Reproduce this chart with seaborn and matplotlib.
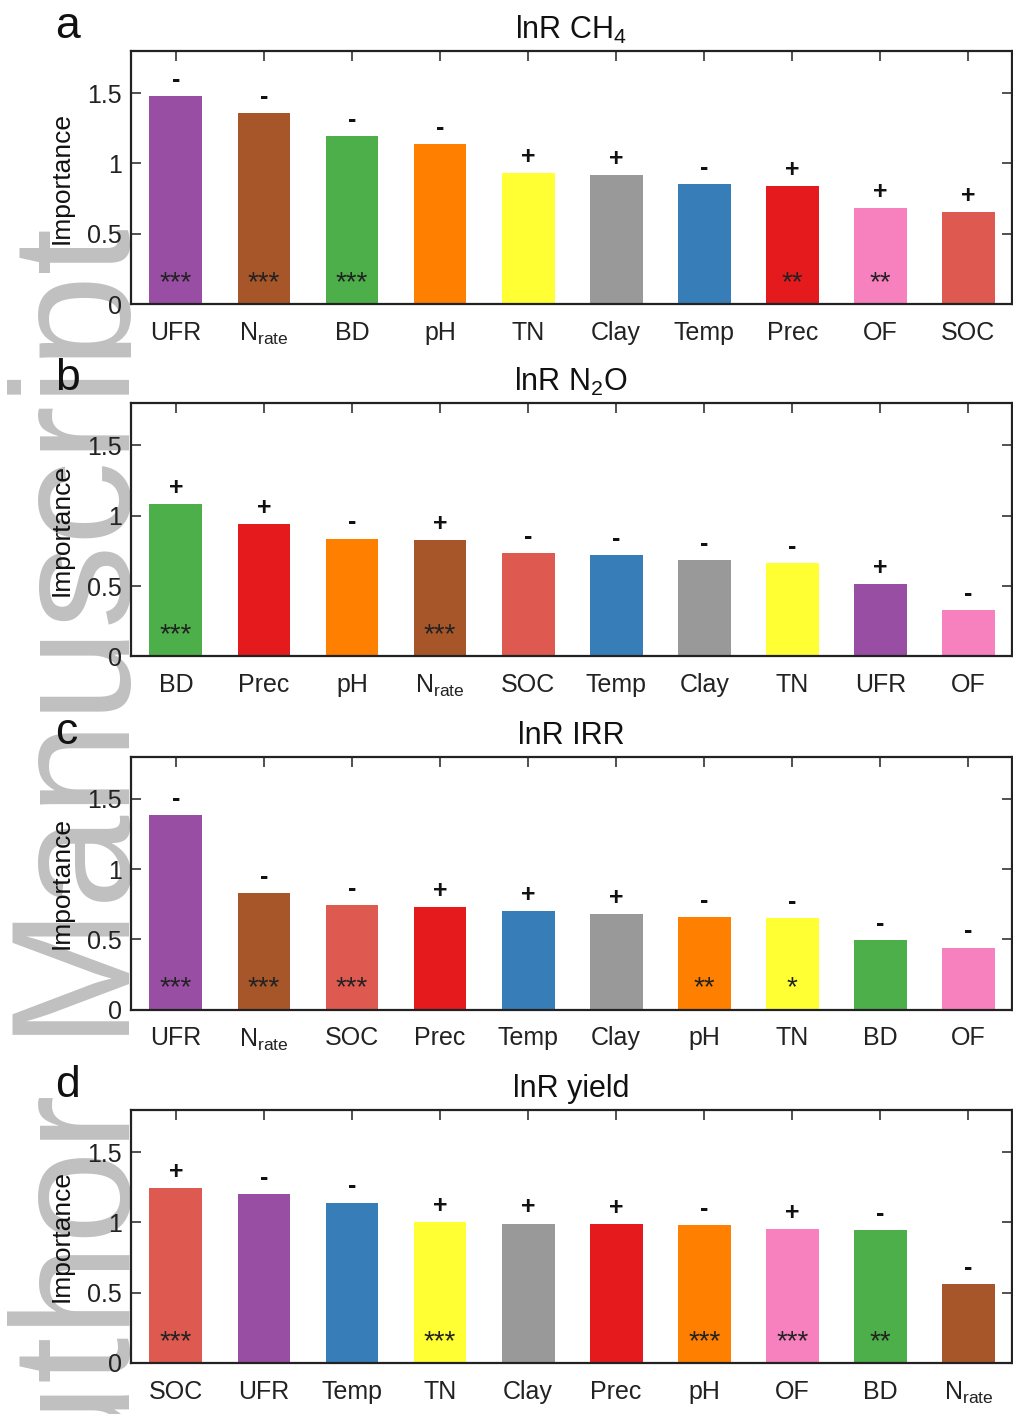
import matplotlib
matplotlib.use("Agg")
import matplotlib.pyplot as plt
import seaborn as sns
import pandas as pd
from matplotlib.transforms import Bbox, TransformedBbox

# ---------------- data ----------------
cats_a = ['UFR', 'Nrate', 'BD', 'pH', 'TN', 'Clay', 'Temp', 'Prec', 'OF', 'SOC']
vals_a = [1.478, 1.359, 1.197, 1.135, 0.930, 0.915, 0.856, 0.836, 0.680, 0.652]
signs_a = ['-', '-', '-', '-', '+', '+', '-', '+', '+', '+']
stars_a = ['***', '***', '***', '', '', '', '', '**', '**', '']

cats_b = ['BD', 'Prec', 'pH', 'Nrate', 'SOC', 'Temp', 'Clay', 'TN', 'UFR', 'OF']
vals_b = [1.080, 0.943, 0.838, 0.824, 0.736, 0.720, 0.687, 0.663, 0.513, 0.328]
signs_b = ['+', '+', '-', '+', '-', '-', '-', '-', '+', '-']
stars_b = ['***', '', '', '***', '', '', '', '', '', '']

cats_c = ['UFR', 'Nrate', 'SOC', 'Prec', 'Temp', 'Clay', 'pH', 'TN', 'BD', 'OF']
vals_c = [1.387, 0.827, 0.744, 0.730, 0.704, 0.683, 0.659, 0.652, 0.494, 0.442]
signs_c = ['-', '-', '-', '+', '+', '+', '-', '-', '-', '-']
stars_c = ['***', '***', '***', '', '', '', '**', '*', '', '']

cats_d = ['SOC', 'UFR', 'Temp', 'TN', 'Clay', 'Prec', 'pH', 'OF', 'BD', 'Nrate']
vals_d = [1.243, 1.200, 1.141, 1.004, 0.992, 0.988, 0.983, 0.955, 0.945, 0.563]
signs_d = ['+', '-', '-', '+', '+', '+', '-', '+', '-', '-']
stars_d = ['***', '', '', '***', '', '', '***', '***', '**', '']

titles = ['lnR CH$_4$', 'lnR N$_2$O', 'lnR IRR', 'lnR yield']
letters = ['a', 'b', 'c', 'd']
ytick_vals = [0, 0.5, 1, 1.5]
ytick_labels = ['0', '0.5', '1', '1.5']
display_names = {'Nrate': r'$\mathrm{N}_{\mathrm{rate}}$'}

palette = {
    'UFR': '#984EA3', 'Nrate': '#A65628', 'BD': '#4DAF4A', 'pH': '#FF7F00',
    'TN': '#FFFF33', 'Clay': '#999999', 'Temp': '#377EB8', 'Prec': '#E41A1C',
    'OF': '#F781BF', 'SOC': '#DE5A50',
}

# ---------------- style ----------------
sns.set_theme(style='ticks')
plt.rcParams['font.family'] = ['Liberation Sans', 'DejaVu Sans']
plt.rcParams['mathtext.fontset'] = 'custom'
plt.rcParams['mathtext.rm'] = 'Liberation Sans'
plt.rcParams['mathtext.it'] = 'Liberation Sans:italic'
plt.rcParams['mathtext.bf'] = 'Liberation Sans:bold'

W, H = 1013, 1414
fig = plt.figure(figsize=(W / 100, H / 100), dpi=100)
fig.patch.set_facecolor('white')

ax_left, ax_right = 131, 1011.5
tops = [51, 403.3, 756.7, 1110]
ax_h = 253

panels = [
    (cats_a, vals_a, signs_a, stars_a),
    (cats_b, vals_b, signs_b, stars_b),
    (cats_c, vals_c, signs_c, stars_c),
    (cats_d, vals_d, signs_d, stars_d),
]

for i, (cats, vals, signs, stars) in enumerate(panels):
    top = tops[i]
    ax = fig.add_axes([ax_left / W, 1 - (top + ax_h) / H,
                       (ax_right - ax_left) / W, ax_h / H])
    df = pd.DataFrame({'var': cats, 'imp': vals})
    sns.barplot(data=df, x='var', y='imp', hue='var', order=cats,
                hue_order=cats, palette=palette, width=0.6, legend=False,
                saturation=1, linewidth=0, ax=ax)
    ax.set_xlim(-0.51, 9.49)
    ax.set_ylim(0, 1.8)
    ax.set_yticks(ytick_vals)
    ax.set_yticklabels(ytick_labels)
    ax.set_xticks(range(len(cats)))
    ax.set_xticklabels([display_names.get(c, c) for c in cats])
    ax.set_xlabel('')
    ax.set_ylabel('Importance', fontsize=19, color='#111111')
    ax.yaxis.set_label_coords((74 - ax_left) / (ax_right - ax_left), 0.5)
    ax.tick_params(axis='both', direction='in', length=7, width=1.1,
                   top=True, right=True, colors='#222222', labelcolor='#222222',
                   labelsize=18)
    ax.tick_params(axis='x', pad=12)
    ax.tick_params(axis='y', pad=6.5)
    for sp in ax.spines.values():
        sp.set_visible(True)
        sp.set_linewidth(1.6)
        sp.set_color('#222222')
    ax.set_title(titles[i], fontsize=22, pad=9, color='#111111')
    # sign and significance annotations
    for j, (v, s, st) in enumerate(zip(vals, signs, stars)):
        ax.text(j, v + 0.065, s, ha='center', va='baseline', fontsize=18,
                fontweight='bold', color='#111111')
        if st:
            ax.text(j, 0.1, st, ha='center', va='baseline', fontsize=20,
                    color='#222222')
    # panel letter
    fig.text(55 / W, 1 - (top - 13) / H, letters[i], ha='left', va='baseline',
             fontsize=32, color='#111111')

# watermark
wm = fig.text(130 / W, 1 - 1588 / H, 'Author Manuscript', rotation=90,
              rotation_mode='anchor', ha='left', va='baseline',
              fontsize=120.7, color='#C0C0C0', zorder=-1)
wm.set_clip_box(TransformedBbox(Bbox([[0, 0], [131 / W, 1]]), fig.transFigure))
wm.set_clip_on(True)

fig.savefig('out.png', dpi=100, facecolor='white')
